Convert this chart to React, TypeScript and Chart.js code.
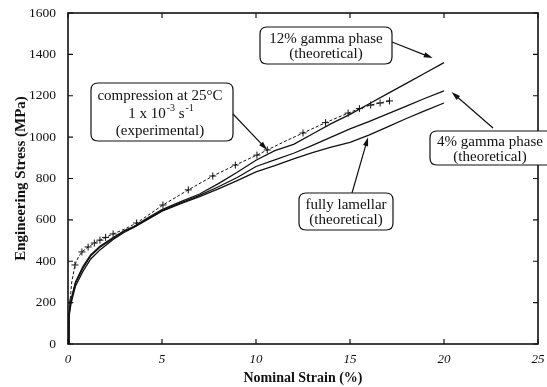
import { useEffect, useRef } from "react";
import { Chart, registerables } from "chart.js";

Chart.register(...registerables);

// Experimental compression curve (dashed, + markers)
const expX = [0, 0.1, 0.2, 0.37, 0.55, 0.74, 1.07, 1.4, 1.7, 2.0, 2.4, 3.0, 3.65, 4.3, 5.05, 6.4, 7.7, 8.9, 10.05, 10.6, 11.5, 12.5, 13.7, 14.9, 15.5, 16.1, 16.6, 17.1];
const expY = [0, 200, 300, 382, 420, 445, 469, 488, 502, 515, 532, 555, 585, 625, 672, 745, 812, 865, 913, 938, 978, 1020, 1070, 1116, 1138, 1155, 1165, 1175];
// measured points that carry a "+" marker (1) or are only line vertices (0)
const expMarked = [0, 1, 0, 1, 0, 1, 1, 1, 1, 1, 1, 0, 1, 0, 1, 1, 1, 1, 1, 1, 0, 1, 1, 1, 1, 1, 1, 1];

// Theoretical curves
const theoX = [0, 0.05, 0.16, 0.4, 0.8, 1.2, 1.7, 2.4, 3.0, 3.5, 4.2, 5.0, 6.0, 7.0, 8.0, 9.0, 10.0, 11.0, 12.0, 13.0, 14.0, 15.0, 16.0, 17.0, 18.0, 19.0, 20.0];
const gamma12Y = [0, 150, 215, 300, 375, 430, 472, 515, 548, 568, 607, 650, 688, 725, 775, 830, 888, 935, 965, 1015, 1065, 1110, 1160, 1210, 1260, 1310, 1360];
const gamma4Y = [0, 145, 210, 295, 368, 425, 468, 510, 545, 566, 603, 645, 682, 718, 760, 805, 858, 890, 922, 960, 1000, 1040, 1075, 1112, 1150, 1188, 1224];
const lamellarY = [0, 130, 195, 280, 352, 410, 455, 505, 540, 563, 600, 642, 678, 712, 750, 790, 832, 862, 895, 925, 952, 975, 1010, 1050, 1090, 1128, 1165];

// Axis ticks
const xTicks = [0, 5, 10, 15, 20, 25];
const yTicks = [0, 200, 400, 600, 800, 1000, 1200, 1400, 1600];

const SERIF = "'Liberation Serif', 'DejaVu Serif', serif";

function pts(xs: number[], ys: number[]) {
  return xs.map((x, i) => ({ x, y: ys[i] }));
}

function roundRect(ctx: CanvasRenderingContext2D, x: number, y: number, w: number, h: number, r: number) {
  ctx.beginPath();
  ctx.moveTo(x + r, y);
  ctx.lineTo(x + w - r, y);
  ctx.quadraticCurveTo(x + w, y, x + w, y + r);
  ctx.lineTo(x + w, y + h - r);
  ctx.quadraticCurveTo(x + w, y + h, x + w - r, y + h);
  ctx.lineTo(x + r, y + h);
  ctx.quadraticCurveTo(x, y + h, x, y + h - r);
  ctx.lineTo(x, y + r);
  ctx.quadraticCurveTo(x, y, x + r, y);
  ctx.closePath();
}

function arrow(ctx: CanvasRenderingContext2D, x1: number, y1: number, x2: number, y2: number) {
  const a = Math.atan2(y2 - y1, x2 - x1);
  const len = 9, hw = 2.6;
  ctx.beginPath();
  ctx.moveTo(x1, y1);
  ctx.lineTo(x2 - Math.cos(a) * len * 0.6, y2 - Math.sin(a) * len * 0.6);
  ctx.stroke();
  ctx.beginPath();
  ctx.moveTo(x2, y2);
  ctx.lineTo(x2 - Math.cos(a) * len - Math.sin(a) * hw, y2 - Math.sin(a) * len + Math.cos(a) * hw);
  ctx.lineTo(x2 - Math.cos(a) * len + Math.sin(a) * hw, y2 - Math.sin(a) * len - Math.cos(a) * hw);
  ctx.closePath();
  ctx.fill();
}

const framePlugin = {
  id: "frame",
  afterDatasetsDraw(chart: any) {
    const { ctx, chartArea: ca, scales } = chart;
    const xs = scales.x, ys = scales.y;
    ctx.save();
    ctx.strokeStyle = "#111";
    ctx.fillStyle = "#111";
    ctx.lineWidth = 1.6;
    ctx.strokeRect(ca.left, ca.top, ca.right - ca.left, ca.bottom - ca.top);
    ctx.lineWidth = 1.2;
    const tl = 5;
    ctx.beginPath();
    xTicks.forEach((v) => {
      const px = xs.getPixelForValue(v);
      ctx.moveTo(px, ca.bottom); ctx.lineTo(px, ca.bottom - tl);
      ctx.moveTo(px, ca.top); ctx.lineTo(px, ca.top + tl);
    });
    yTicks.forEach((v) => {
      const py = ys.getPixelForValue(v);
      ctx.moveTo(ca.left, py); ctx.lineTo(ca.left + tl, py);
      ctx.moveTo(ca.right, py); ctx.lineTo(ca.right - tl, py);
    });
    ctx.stroke();

    // Axis titles
    ctx.fillStyle = "#111";
    ctx.font = `bold 14px ${SERIF}`;
    ctx.textAlign = "center";
    ctx.textBaseline = "middle";
    ctx.fillText("Nominal Strain (%)", (ca.left + ca.right) / 2, 378);
    ctx.save();
    ctx.font = `bold 15px ${SERIF}`;
    ctx.translate(21, (ca.top + ca.bottom) / 2);
    ctx.rotate(-Math.PI / 2);
    ctx.fillText("Engineering Stress (MPa)", 0, 0);
    ctx.restore();

    // Annotations
    const f = `15px ${SERIF}`;
    ctx.font = f;
    ctx.lineWidth = 1.2;
    const box = (x: number, y: number, w: number, h: number) => {
      ctx.fillStyle = "#fff";
      roundRect(ctx, x, y, w, h, 7);
      ctx.fill();
      ctx.stroke();
      ctx.fillStyle = "#111";
    };

    // 12% gamma phase
    box(260, 27, 132, 37);
    ctx.fillText("12% gamma phase", 326, 39);
    ctx.fillText("(theoretical)", 326, 54);
    arrow(ctx, 392, 42, xs.getPixelForValue(19.4), ys.getPixelForValue(1382));

    // 4% gamma phase
    box(430, 131, 125, 34);
    ctx.fillText("4% gamma phase", 490, 142);
    ctx.fillText("(theoretical)", 490, 157);
    arrow(ctx, 493, 128, xs.getPixelForValue(20.4), ys.getPixelForValue(1218));

    // fully lamellar
    box(299, 193, 94, 37);
    ctx.fillText("fully lamellar", 346, 205);
    ctx.fillText("(theoretical)", 346, 220);
    arrow(ctx, 352, 193, xs.getPixelForValue(15.96), ys.getPixelForValue(1000));

    // experimental
    box(91, 83, 142, 58);
    ctx.fillText("compression at 25\u00B0C", 160, 96);
    // 1 x 10^-3 s^-1
    const sup = `10px ${SERIF}`;
    const parts: [string, boolean][] = [["1 x 10", false], ["-3", true], [" s", false], ["-1", true]];
    let total = 0;
    parts.forEach(([t, s]) => { ctx.font = s ? sup : f; total += ctx.measureText(t).width + (s ? 1 : 0); });
    let cx = 161 - total / 2;
    ctx.textAlign = "left";
    parts.forEach(([t, s]) => {
      ctx.font = s ? sup : f;
      ctx.fillText(t, cx + (s ? 1 : 0), s ? 108 : 114);
      cx += ctx.measureText(t).width + (s ? 1 : 0);
    });
    ctx.textAlign = "center";
    ctx.font = f;
    ctx.fillText("(experimental)", 160, 131);
    arrow(ctx, 233, 114, xs.getPixelForValue(10.6), ys.getPixelForValue(938));
    ctx.restore();
  },
};

export default function App() {
  const ref = useRef<HTMLCanvasElement | null>(null);
  useEffect(() => {
    document.body.style.margin = "0";
    const canvas = ref.current;
    if (!canvas) return;
    const solid = (data: { x: number; y: number }[]) => ({
      data,
      showLine: true,
      borderColor: "#111",
      borderWidth: 1.3,
      pointRadius: 0,
      tension: 0,
      fill: false,
    });
    const chart = new Chart(canvas, {
      type: "scatter",
      data: {
        datasets: [
          {
            label: "compression at 25°C (experimental)",
            data: pts(expX, expY),
            showLine: true,
            borderColor: "#111",
            borderWidth: 1,
            borderDash: [3, 2],
            pointStyle: "cross",
            pointRadius: (c: any) => (expMarked[c.dataIndex] ? 3.5 : 0),
            pointBorderColor: "#111",
            pointBorderWidth: 1,
            pointBackgroundColor: "#111",
            fill: false,
          } as any,
          { label: "12% gamma phase (theoretical)", ...solid(pts(theoX, gamma12Y)) } as any,
          { label: "4% gamma phase (theoretical)", ...solid(pts(theoX, gamma4Y)) } as any,
          { label: "fully lamellar (theoretical)", ...solid(pts(theoX, lamellarY)) } as any,
        ],
      },
      options: {
        responsive: false,
        animation: false,
        layout: { padding: { top: 13, right: 9, left: 0, bottom: 0 } },
        plugins: { legend: { display: false }, tooltip: { enabled: false } },
        scales: {
          x: {
            type: "linear",
            min: 0,
            max: 25,
            afterFit: (s: any) => { s.height = 43; },
            afterBuildTicks: (s: any) => { s.ticks = xTicks.map((v) => ({ value: v })); },
            ticks: {
              color: "#111",
              padding: 0,
              font: { family: SERIF, size: 13, style: "italic" },
              maxRotation: 0,
              callback: (v: any) => String(v),
            },
            grid: { display: false },
            border: { display: false },
          },
          y: {
            type: "linear",
            min: 0,
            max: 1600,
            afterFit: (s: any) => { s.width = 68; },
            afterBuildTicks: (s: any) => { s.ticks = yTicks.map((v) => ({ value: v })); },
            ticks: {
              color: "#111",
              padding: 4,
              font: { family: SERIF, size: 13.5 },
              callback: (v: any) => String(v),
            },
            grid: { display: false },
            border: { display: false },
          },
        },
      } as any,
      plugins: [framePlugin],
    });
    return () => chart.destroy();
  }, []);
  return (
    <div style={{ position: "absolute", left: 0, top: 0, width: 547, height: 387, background: "#fff" }}>
      <canvas ref={ref} width={547} height={387} style={{ width: 547, height: 387, display: "block" }} />
    </div>
  );
}
